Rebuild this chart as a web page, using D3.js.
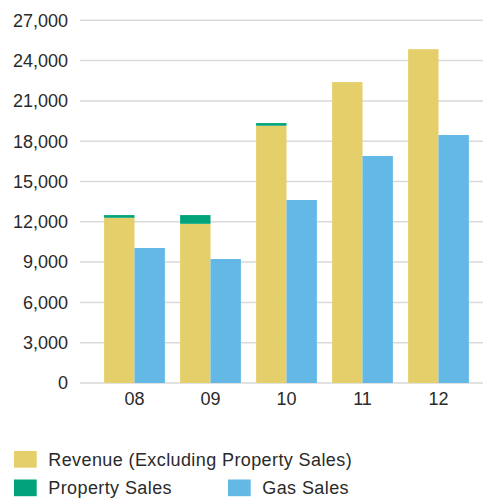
<!DOCTYPE html>
<html><head><meta charset="utf-8">
<script src="https://cdn.jsdelivr.net/npm/d3@7"></script>
<style>
html,body{margin:0;padding:0;background:#fff;}
svg{display:block;font-family:"Liberation Sans",Arial,Helvetica,sans-serif;}
</style></head>
<body>
<svg id="chart" width="483" height="499"></svg>
<script>
const categories = ["08","09","10","11","12"];
const revenueExProperty = [12300, 11850, 19150, 22400, 24850];
const propertySales = [200, 650, 200, 0, 0];
const gasSales = [10050, 9230, 13620, 16900, 18460];
const yTicks = [0,3000,6000,9000,12000,15000,18000,21000,24000,27000];
const legendItems = [
  {label:"Revenue (Excluding Property Sales)", color:"#E5CF6A"},
  {label:"Property Sales", color:"#00A37A"},
  {label:"Gas Sales", color:"#63B8E6"}
];
const colors = {rev:"#E5CF6A", prop:"#00A37A", gas:"#63B8E6"};

const svg = d3.select("#chart");
const y = d3.scaleLinear().domain([0,27000]).range([383,20.3]);
const x0 = d3.scaleBand().domain(categories).range([96.5,476.5]).paddingInner(0.2).paddingOuter(0.1);
const x1 = d3.scaleBand().domain(["a","b"]).range([0,x0.bandwidth()]);

// gridlines
svg.append("g").selectAll("line").data(yTicks).join("line")
  .attr("x1",80).attr("x2",483)
  .attr("y1",d=>y(d)).attr("y2",d=>y(d))
  .attr("stroke","#d9d9d9").attr("stroke-width",1.5);

// y labels
svg.append("g").selectAll("text").data(yTicks).join("text")
  .attr("x",68).attr("y",d=>y(d)).attr("dy","0.35em")
  .attr("text-anchor","end").attr("font-size",18).attr("fill","#2a2a2a")
  .text(d=>d3.format(",")(d));

const data = categories.map((c,i)=>({c, rev:revenueExProperty[i], prop:propertySales[i], gas:gasSales[i]}));
const g = svg.append("g");
const grp = g.selectAll("g").data(data).join("g").attr("transform",d=>`translate(${x0(d.c)},0)`);
grp.append("rect").attr("x",x1("a")).attr("width",x1.bandwidth())
  .attr("y",d=>y(d.rev)).attr("height",d=>y(0)-y(d.rev)).attr("fill",colors.rev);
grp.filter(d=>d.prop>0).append("rect").attr("x",x1("a")).attr("width",x1.bandwidth())
  .attr("y",d=>y(d.rev+d.prop)).attr("height",d=>y(d.rev)-y(d.rev+d.prop)).attr("fill",colors.prop);
grp.append("rect").attr("x",x1("b")).attr("width",x1.bandwidth())
  .attr("y",d=>y(d.gas)).attr("height",d=>y(0)-y(d.gas)).attr("fill",colors.gas);

// x labels
svg.append("g").selectAll("text").data(categories).join("text")
  .attr("x",d=>x0(d)+x0.bandwidth()/2).attr("y",399).attr("dy","0.35em")
  .attr("text-anchor","middle").attr("font-size",18).attr("fill","#2a2a2a")
  .text(d=>d);

// legend
const legPos = [{x:14,y:451},{x:14,y:479.5},{x:228,y:479.5}];
const leg = svg.append("g").selectAll("g").data(legendItems).join("g")
  .attr("transform",(d,i)=>`translate(${legPos[i].x},${legPos[i].y})`);
leg.append("rect").attr("width",22.7).attr("height",16.7).attr("fill",d=>d.color);
leg.append("text").attr("x",34.3).attr("y",8.5).attr("dy","0.35em")
  .attr("font-size",18).attr("letter-spacing",0.4).attr("fill","#2a2a2a").text(d=>d.label);
</script>
</body></html>
